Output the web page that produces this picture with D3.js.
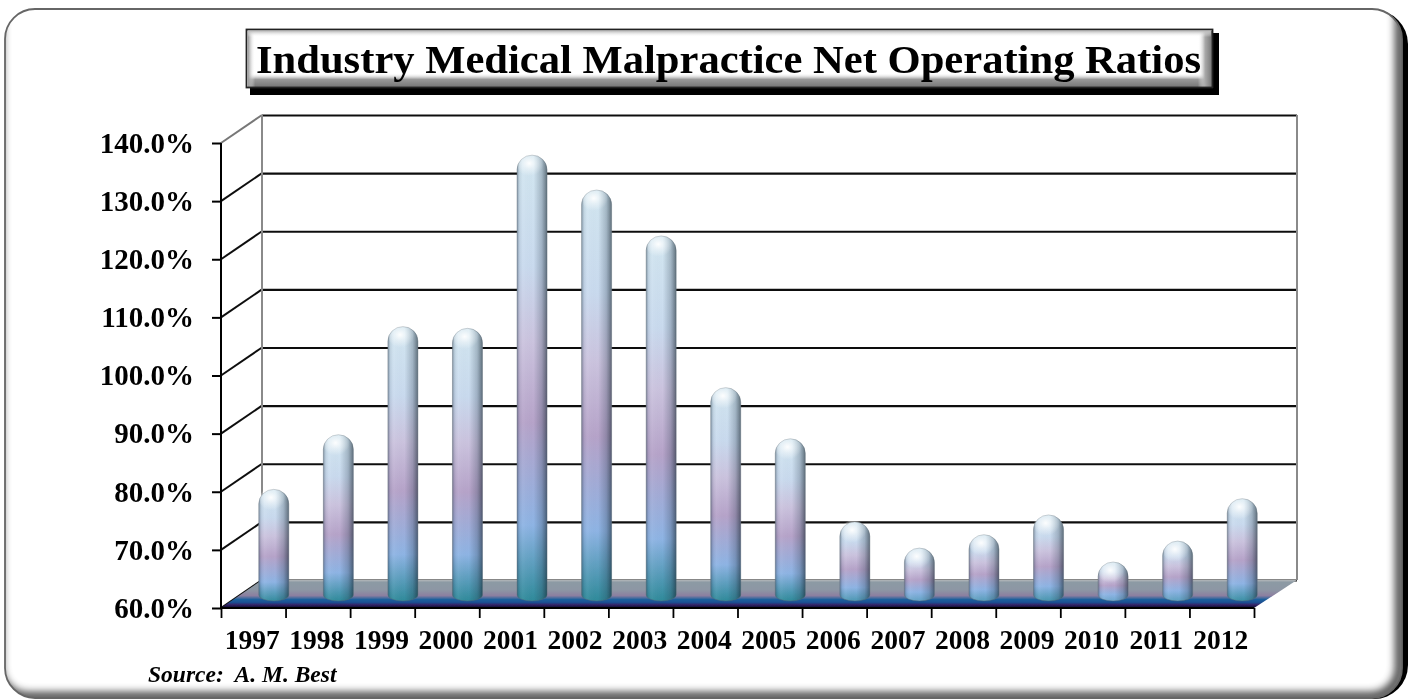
<!DOCTYPE html>
<html><head><meta charset="utf-8">
<script src="https://cdn.jsdelivr.net/npm/d3@7/dist/d3.min.js"></script>
<style>
html,body{margin:0;padding:0;background:#fff;overflow:hidden}
svg{display:block}
text{font-family:"Liberation Serif",serif;fill:#000}
</style></head><body>
<svg id="c" width="1411" height="700"></svg>
<script>
const years = ["1997","1998","1999","2000","2001","2002","2003","2004","2005","2006","2007","2008","2009","2010","2011","2012"];
const ratios = [78,87.4,106,105.7,135.5,129.5,121.6,95.5,86.7,72.4,67.9,70.2,73.6,65.5,69.1,76.4];
const yTicks = [60,70,80,90,100,110,120,130,140];
const titleText = "Industry Medical Malpractice Net Operating Ratios";
const sourceText = "Source:  A. M. Best";

const W=1411,H=700;
const frontL=221,frontR=1254,yBase=608,yTop=143,dx=41,dy=28,rightBack=1297;
const svg=d3.select("#c");
const defs=svg.append("defs");
const y=d3.scaleLinear().domain([60,140]).range([yBase,yTop]);
const x=d3.scaleBand().domain(years).range([frontL,frontR]);
const xEdge=d3.scaleLinear().domain([0,years.length]).range([frontL,frontR]);

function linear(id,x1,y1,x2,y2,stops){
  const g=defs.append("linearGradient").attr("id",id).attr("x1",x1).attr("y1",y1).attr("x2",x2).attr("y2",y2);
  stops.forEach(s=>g.append("stop").attr("offset",s[0]).attr("stop-color",s[1]).attr("stop-opacity",s[2]===undefined?1:s[2]));
}
const barBottom=y(60)-dy/2+7;
const barTop=i=>y(ratios[i])-dy/2;
years.forEach((d,i)=>{
  const h=barBottom-barTop(i);
  const endMix=Math.min(1,0.17*h/20);
  const end=d3.interpolateRgb("#8cb6e6","#2f8a9a")(endMix);
  linear("barV"+i,0,0,0,1,[[0,"#d2e6f0"],[.25,"#c9daee"],[.42,"#cbc3de"],[.6,"#b6a3c9"],[.83,"#8eb4e4"],[1,end]]);
});
linear("barH",0,0,1,0,[[0,"#26384a",.42],[.08,"#26384a",.1],[.2,"#fff",.05],[.55,"#26384a",0],[.82,"#26384a",.26],[1,"#16242e",.6]]);
linear("floorG",0,0,0,1,[[0,"#b4b8ba"],[.08,"#8c9aa4"],[.36,"#8d96a4"],[.56,"#8c7fa0"],[.7,"#1c5f9c"],[.8,"#1b4f92"],[.88,"#35266a"],[.96,"#1a1440"],[1,"#050510"]]);
linear("bevelB",0,0,0,1,[[0,"#fff",0],[.45,"#999"],[1,"#777"]]);
linear("bevelR",0,0,1,0,[[0,"#fff",0],[.5,"#aaa"],[1,"#777"]]);
linear("bevelL",0,0,1,0,[[0,"#999"],[1,"#fff",0]]);
linear("bevelT",0,0,0,1,[[0,"#bbb"],[1,"#fff",0]]);
const cap=defs.append("radialGradient").attr("id","capG").attr("cx",.45).attr("cy",.42).attr("r",.55);
cap.append("stop").attr("offset",0).attr("stop-color","#fff").attr("stop-opacity",.95);
cap.append("stop").attr("offset",.45).attr("stop-color","#fff").attr("stop-opacity",.45);
cap.append("stop").attr("offset",1).attr("stop-color","#fff").attr("stop-opacity",0);
defs.append("filter").attr("id","b6").attr("x","-5%").attr("y","-5%").attr("width","110%").attr("height","110%")
  .append("feGaussianBlur").attr("stdDeviation",4);
defs.append("filter").attr("id","soft").attr("x",0).attr("y",0).attr("width","100%").attr("height","100%")
  .append("feGaussianBlur").attr("stdDeviation",.5);
defs.append("clipPath").attr("id","panelClip").append("rect")
  .attr("x",5).attr("y",9).attr("width",1397).attr("height",689).attr("rx",30);

const root=svg.append("g").attr("filter","url(#soft)");
root.append("rect").attr("width",W).attr("height",H).attr("fill","#fff");

// panel
root.append("rect").attr("x",9).attr("y",10).attr("width",1399).attr("height",689).attr("rx",34).attr("fill","#000");
root.append("rect").attr("x",5).attr("y",9).attr("width",1397).attr("height",689).attr("rx",30).attr("fill","#fff");
const inner=root.append("g").attr("clip-path","url(#panelClip)");
inner.append("rect").attr("x",-2).attr("y",-12).attr("width",1402).attr("height",709).attr("rx",30)
  .attr("fill","none").attr("stroke","#000").attr("stroke-width",9).attr("filter","url(#b6)").attr("opacity",.8);
root.append("rect").attr("x",5).attr("y",9).attr("width",1397).attr("height",689).attr("rx",30)
  .attr("fill","none").attr("stroke","#666").attr("stroke-width",1.8);

// title box
root.append("rect").attr("x",250).attr("y",33).attr("width",969).attr("height",62).attr("fill","#000");
root.append("rect").attr("x",246).attr("y",29).attr("width",967).attr("height",59).attr("fill","#fff");
root.append("rect").attr("x",248).attr("y",73).attr("width",963).attr("height",14).attr("fill","url(#bevelB)");
root.append("rect").attr("x",1198).attr("y",31).attr("width",14).attr("height",56).attr("fill","url(#bevelR)");
root.append("rect").attr("x",248).attr("y",31).attr("width",7).attr("height",56).attr("fill","url(#bevelL)");
root.append("rect").attr("x",248).attr("y",31).attr("width",963).attr("height",6).attr("fill","url(#bevelT)");
root.append("rect").attr("x",246.5).attr("y",29.5).attr("width",966).attr("height",58).attr("fill","none").attr("stroke","#222").attr("stroke-width",1.8);
root.append("text").attr("x",256).attr("y",73).attr("font-size",41).attr("font-weight","bold")
  .attr("textLength",945).attr("lengthAdjust","spacingAndGlyphs").text(titleText);

// side and back walls, from the value scale
const wall=root.append("g");
wall.selectAll("line.back").data(yTicks).join("line").attr("class","back")
  .attr("x1",frontL+dx).attr("x2",rightBack).attr("y1",d=>y(d)-dy+.5).attr("y2",d=>y(d)-dy+.5)
  .attr("stroke","#111").attr("stroke-width",2.2);
wall.selectAll("line.side").data(yTicks).join("line").attr("class","side")
  .attr("x1",frontL).attr("x2",frontL+dx).attr("y1",d=>y(d)).attr("y2",d=>y(d)-dy)
  .attr("stroke",d=>d===140?"#777":"#111").attr("stroke-width",2);
[frontL+dx,rightBack].forEach(px=>wall.append("line").attr("x1",px).attr("x2",px)
  .attr("y1",y(140)-dy).attr("y2",y(60)-dy).attr("stroke","#8a8a8a").attr("stroke-width",2));

// floor
root.append("path").attr("fill","url(#floorG)")
  .attr("d",d3.line()([[frontL,yBase],[frontR,yBase],[rightBack,yBase-dy],[frontL+dx,yBase-dy]])+"Z");

// bars
const barW=30,rx=barW/2,capH=14.5,botH=6;
const cxOf=d=>x(d)+x.bandwidth()/2+dx/2;
const barPath=(d,i)=>{
  const c=cxOf(d),t=barTop(i),b=barBottom-botH;
  return `M${c-rx},${t+capH}A${rx},${capH} 0 0 1 ${c+rx},${t+capH}L${c+rx},${b}A${rx},${botH} 0 0 1 ${c-rx},${b}Z`;
};
const bars=root.append("g");
bars.selectAll("path.v").data(years).join("path").attr("class","v").attr("d",barPath).attr("fill",(d,i)=>`url(#barV${i})`);
bars.selectAll("path.h").data(years).join("path").attr("class","h").attr("d",barPath).attr("fill","url(#barH)")
  .attr("stroke","#5a6670").attr("stroke-opacity",.4).attr("stroke-width",1);
bars.selectAll("ellipse").data(years).join("ellipse")
  .attr("cx",d=>cxOf(d)-1.5).attr("cy",(d,i)=>barTop(i)+10).attr("rx",rx-2).attr("ry",capH-3)
  .attr("fill","url(#capG)");

// axes
const yAxis=d3.axisLeft(y).tickValues(yTicks).tickSize(9).tickPadding(18).tickFormat(d=>d3.format(".1f")(d)+"%");
const gy=root.append("g").attr("transform",`translate(${frontL},0)`).call(yAxis);
gy.selectAll("text").attr("font-size",29).attr("font-weight","bold").style("font-family",'"Liberation Serif",serif');
gy.selectAll("line,path").attr("stroke","#000").attr("stroke-width",2);
gy.select(".domain").attr("d",`M0,${y(140)}V${y(60)}`);

const gt=root.append("g").attr("transform",`translate(0,${yBase})`)
  .call(d3.axisBottom(xEdge).tickValues(d3.range(years.length+1)).tickSize(10).tickFormat(""));
gt.selectAll("line,path").attr("stroke","#000").attr("stroke-width",1.8);
gt.select(".domain").attr("d",`M${frontL},0H${frontR}`);
const gx=root.append("g").attr("transform",`translate(-1,${yBase})`)
  .call(d3.axisBottom(x).tickSize(0).tickPadding(21));
gx.select(".domain").remove();
gx.selectAll("text").attr("font-size",27.5).attr("font-weight","bold").style("font-family",'"Liberation Serif",serif');

root.append("text").attr("x",148).attr("y",682).attr("font-size",23.5).attr("font-weight","bold")
  .attr("font-style","italic").attr("xml:space","preserve").style("white-space","pre").text(sourceText);
</script>
</body></html>
